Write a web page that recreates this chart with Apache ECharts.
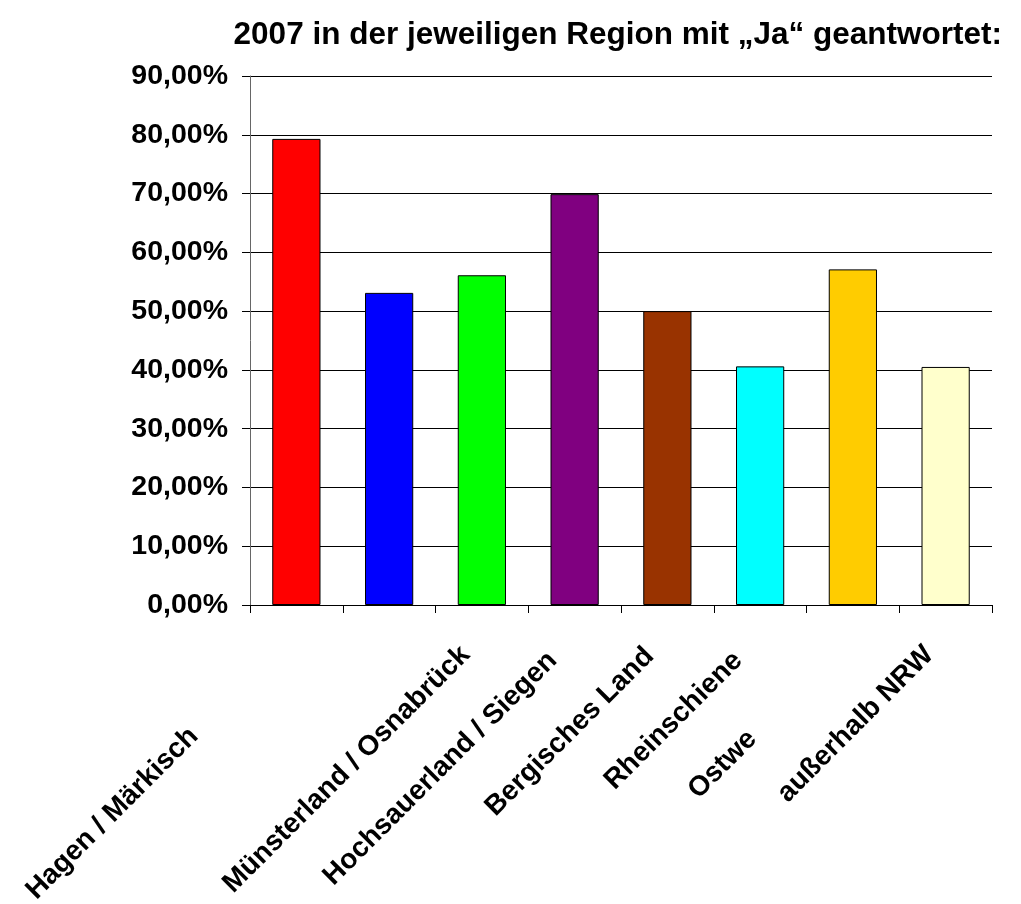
<!DOCTYPE html>
<html>
<head>
<meta charset="utf-8">
<script src="https://cdn.jsdelivr.net/npm/echarts@6/dist/echarts.min.js"></script>
<style>
  html, body { margin: 0; padding: 0; background: #fff; }
  #chart { width: 1021px; height: 904px; }
</style>
</head>
<body>
<div id="chart"></div>
<script>
const titleText = '2007 in der jeweiligen Region mit \u201eJa\u201c geantwortet:';
const regions = [
  'Hagen / Märkisch',
  'Münsterland / Osnabrück',
  'Hochsauerland / Siegen',
  'Bergisches Land',
  'Rheinschiene',
  'Ostwe',
  'außerhalb NRW',
  ''
];
const shares = [79.3, 53.1, 56.1, 69.9, 50.0, 40.6, 57.1, 40.5];
const barColors = ['#ff0000', '#0000ff', '#00ff00', '#800080', '#993300', '#00ffff', '#ffcc00', '#ffffcc'];

const font = 'Liberation Sans, Arial, sans-serif';

// label shifts (the original has them offset along the slant)
const labelPadding = [
  [0, 76, 55, 0],
  [0, -108, 0, 0],
  [0, -100, 0, 0],
  [0, -106, 0, 0],
  [0, -100, 0, 0],
  [0, 11, 0, 0],
  [0, -108, 0, 0],
  [0, 0, 0, 0]
];

const chart = echarts.init(document.getElementById('chart'), null, { renderer: 'canvas' });

const catData = regions.map((r, i) => {
  const ts = { padding: labelPadding[i] };
  if (i === 0) ts.verticalAlign = 'bottom';
  return { value: r, textStyle: ts };
});

const barData = shares.map((v, i) => ({
  value: v,
  itemStyle: { color: barColors[i] }
}));

const options = {
  animation: false,
  backgroundColor: '#fff',
  title: {
    text: titleText,
    right: 14,
    top: 14,
    textStyle: {
      fontFamily: font,
      fontWeight: 'bold',
      fontSize: 31.5,
      color: '#000'
    }
  },
  grid: {
    left: 250,
    right: 29,
    top: 76,
    bottom: 299,
    outerBoundsMode: 'none',
    containLabel: false
  },
  xAxis: {
    type: 'category',
    data: catData,
    axisLine: { show: true, lineStyle: { color: '#000', width: 1 } },
    axisTick: { show: true, length: 8, interval: 0, lineStyle: { color: '#000', width: 1 } },
    axisLabel: {
      interval: 0,
      rotate: 45,
      margin: 122,
      align: 'right',
      verticalAlign: 'middle',
      fontFamily: font,
      fontWeight: 'bold',
      fontSize: 28,
      color: '#000'
    }
  },
  yAxis: {
    type: 'value',
    min: 0,
    max: 90,
    interval: 10,
    axisLine: { show: true, lineStyle: { color: '#666', width: 1 } },
    axisTick: { show: true, length: 8, lineStyle: { color: '#000' } },
    splitLine: { show: true, lineStyle: { color: '#000', width: 1 } },
    axisLabel: {
      margin: 22,
      fontFamily: font,
      fontWeight: 'bold',
      fontSize: 28.5,
      color: '#000',
      formatter: (v) => v.toFixed(2).replace('.', ',') + '%'
    }
  },
  series: [
    {
      type: 'bar',
      data: barData,
      barWidth: '52%',
      itemStyle: { borderColor: '#000', borderWidth: 1 }
    }
  ]
};

chart.setOption(options);
</script>
</body>
</html>
